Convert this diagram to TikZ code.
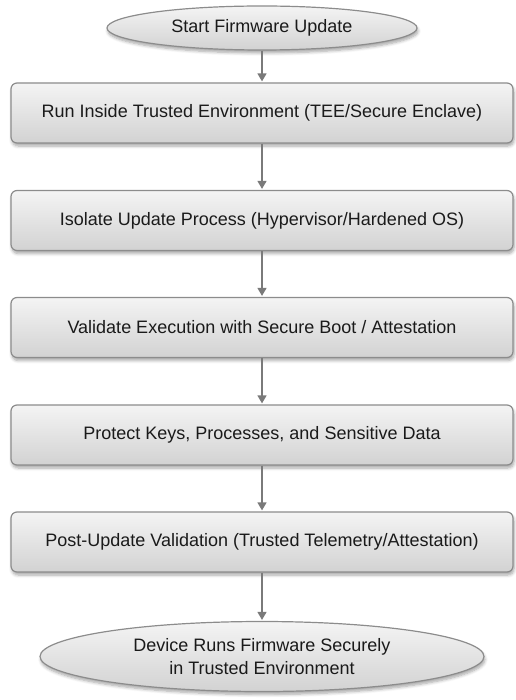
\documentclass[tikz,border=0pt]{standalone}
\usepackage{fontspec}
\setmainfont{Liberation Sans}
\usetikzlibrary{shapes.geometric,arrows.meta,shadows.blur}
\definecolor{edgegray}{HTML}{8C8C8C}
\definecolor{topgray}{HTML}{F4F4F4}
\definecolor{botgray}{HTML}{D2D2D2}
\definecolor{arrowgray}{HTML}{7A7A7A}
\definecolor{textgray}{HTML}{1A1A1A}
\tikzset{
  x=1pt, y=-1pt,
  base/.style={draw=edgegray, line width=1.2pt, top color=topgray, bottom color=botgray,
    text=textgray, font=\fontsize{18}{23}\selectfont, align=center,
    blur shadow={shadow xshift=1pt, shadow yshift=-3pt, shadow blur radius=3pt, shadow blur steps=6, shadow opacity=35}},
  stepbox/.style={base, rectangle, rounded corners=6pt, minimum width=502pt, minimum height=60pt, inner sep=0pt},
  terminal/.style={base, ellipse, inner sep=0pt},
  flow/.style={draw=arrowgray, line width=1.4pt, -{Triangle[width=9pt,length=8pt]}, shorten >=1pt}
}
\begin{document}
\begin{tikzpicture}
\useasboundingbox (0,0) rectangle (515,700);
\node[terminal, minimum width=310pt, minimum height=44pt] (start) at (262,28) {Start Firmware Update};
\node[stepbox] (s1) at (262,113) {Run Inside Trusted Environment (TEE/Secure Enclave)};
\node[stepbox] (s2) at (262,220.5) {Isolate Update Process (Hypervisor/Hardened OS)};
\node[stepbox] (s3) at (262,327.5) {Validate Execution with Secure Boot / Attestation};
\node[stepbox] (s4) at (262,435) {Protect Keys, Processes, and Sensitive Data};
\node[stepbox] (s5) at (262,542) {Post-Update Validation (Trusted Telemetry/Attestation)};
\node[terminal, minimum width=444pt, minimum height=70pt] (done) at (262,656.5) {Device Runs Firmware Securely\\in Trusted Environment};
\draw[flow] (start) -- (s1);
\draw[flow] (s1) -- (s2);
\draw[flow] (s2) -- (s3);
\draw[flow] (s3) -- (s4);
\draw[flow] (s4) -- (s5);
\draw[flow] (s5) -- (done);
\end{tikzpicture}
\end{document}
